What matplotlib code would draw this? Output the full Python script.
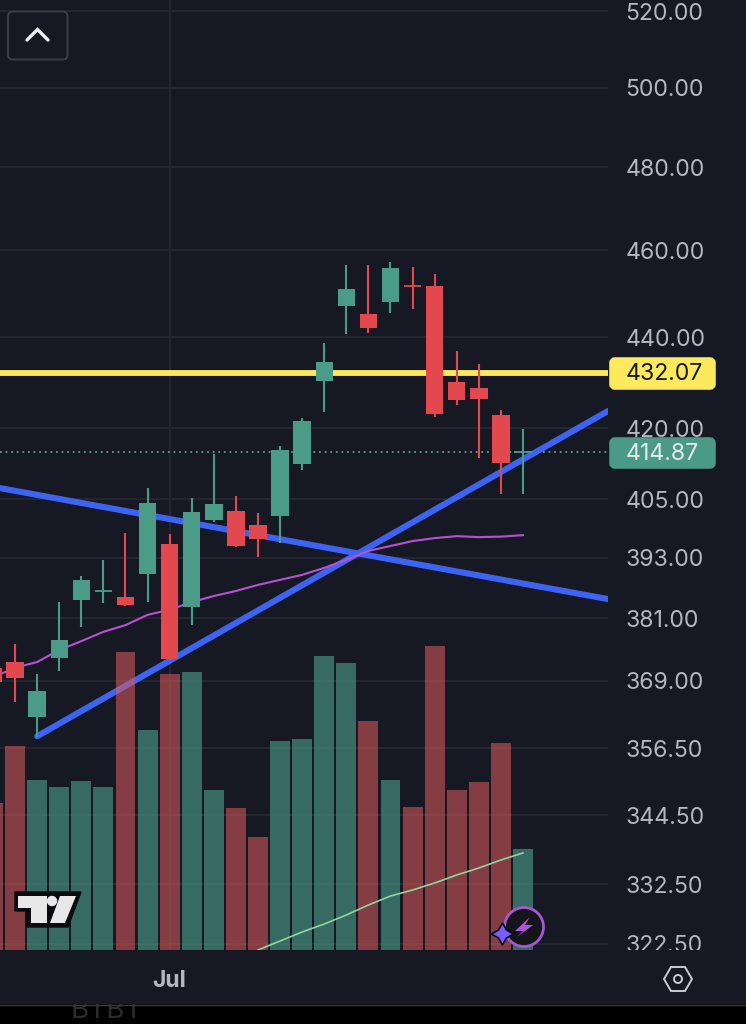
import numpy as np
import matplotlib
matplotlib.use("Agg")
import matplotlib.pyplot as plt
from matplotlib.patches import FancyBboxPatch, Rectangle, Circle, Polygon
from matplotlib.transforms import Bbox
from matplotlib.ticker import NullLocator

# ---- data ----
IDX = list(range(25))
OPEN = [371.5,372.6,362.2,373.4,384.6,386.4,385.2,389.8,395.8,383.2,400.7,402.5,399.7,401.5,412.4,430.3,447.1,445.3,448.0,451.7,451.7,430.0,428.7,422.8,414.85]
CLOSE = [368.8,369.6,367.1,376.8,388.6,386.45,383.6,404.2,373.2,402.3,404.0,395.4,396.8,415.3,421.5,434.5,451.0,442.1,455.9,451.65,423.0,426.1,426.3,412.6,414.87]
HIGH = [372.0,376.0,370.3,384.2,389.4,392.6,398.0,407.3,397.8,405.2,414.5,405.7,402.1,416.2,422.2,438.7,456.6,456.6,457.3,456.1,454.5,436.9,434.0,423.9,419.8]
LOW = [365.4,365.0,358.6,370.9,379.3,384.0,383.4,384.2,373.0,379.7,400.3,395.2,393.2,396.0,411.1,423.5,440.7,441.0,445.5,446.4,422.4,425.0,413.6,406.1,406.1]
PRICE_MA = [369.7,371.5,372.6,374.9,376.6,378.4,379.7,381.7,382.7,384.2,385.4,386.4,387.6,388.6,389.6,391.0,392.6,394.4,395.4,396.4,397.0,397.4,397.2,397.3,397.6]
VOLUME = [147,204,170,163,169,163,298,220,276,278,160,142,113,209,211,294,287,229,170,143,304,160,168,207,101]
VOL_MA_IDX = [12,13,14,15,16,17,18,19,20,21,22,23,24]
VOL_MA = [0,9,18,26,35,45,54,60,67,75,82,90,97]
TREND_UP_X, TREND_UP_Y = [2, 27.85], [358.7, 423.7]
TREND_DOWN_X, TREND_DOWN_Y = [0.317, 27.85], [407.3, 384.8]
LEVEL = 432.07
LAST = 414.87
YTICKS = [520,500,480,460,440,420,405,393,381,369,356.5,344.5,332.5,322.5]
YTICKLABELS = ["520.00","500.00","480.00","460.00","440.00","420.00","405.00","393.00","381.00","369.00","356.50","344.50","332.50","322.50"]
XTICKS, XTICKLABELS = [8], ["Jul"]

BG = "#161923"; GRID = "#262932"; UP = "#4a9c88"; DOWN = "#e2484d"; TXT = "#b4b6c0"
FONT = ["Inter", "DejaVu Sans"]
plt.rcParams["font.family"] = FONT

W, H = 746, 1024
fig = plt.figure(figsize=(W/100, H/100), dpi=100, facecolor="black")

# overlay in pixel coordinates, used for UI chrome
bgax = fig.add_axes([0, 0, 1, 1], zorder=0); bgax.set_xlim(0, W); bgax.set_ylim(H, 0); bgax.axis("off")
bgax.add_patch(Rectangle((0, 0), W, 1004, fc=BG, ec="none", zorder=2))
bgax.plot([0, W], [1004.5, 1004.5], color="#3c3d42", lw=1, zorder=3)
bgax.text(107, 1011.5, "BTBT", color="#2b2b2b", fontsize=20, ha="center", va="center", zorder=1)

pos = [0, 74/H, 608/W, 950/H]
XLIM, YLIM = (0.317, 27.85), (321.51, 522.94)

ax = fig.add_axes(pos, zorder=1, sharex=None)
ax.patch.set_visible(False)
ax.set_yscale("log"); ax.set_xlim(*XLIM); ax.set_ylim(*YLIM)
for s in ax.spines.values(): s.set_visible(False)
ax.yaxis.tick_right()
ax.yaxis.set_minor_locator(NullLocator())
ax.set_yticks(YTICKS); ax.set_yticklabels(YTICKLABELS)
ax.set_xticks(XTICKS); ax.set_xticklabels(XTICKLABELS, fontweight="bold", fontsize=16.5, color=TXT)
ax.tick_params(axis="y", length=0, pad=12.7, labelsize=16.6, labelcolor=TXT)
ax.tick_params(axis="x", length=0, pad=14.5)
ax.grid(True, color=GRID, lw=1.2); ax.set_axisbelow(True)
clip = Bbox([[0, 74], [W, H]])
for lab in ax.get_yticklabels():
    lab.set_clip_box(clip); lab.set_clip_on(True)

ax.axhline(LEVEL, color="#fdea5c", lw=4.2, zorder=3)
ax.axhline(LAST, color="#5f9f90", lw=1.3, ls=(0, (1, 2.1)), zorder=3)
ax.plot(TREND_UP_X, TREND_UP_Y, color="#3c63f2", lw=4.4, solid_capstyle="round", zorder=4)
ax.plot(TREND_DOWN_X, TREND_DOWN_Y, color="#3c63f2", lw=4.4, solid_capstyle="round", zorder=4)

# volume
axv = fig.add_axes(pos, zorder=2); axv.patch.set_visible(False); axv.axis("off")
axv.set_xlim(*XLIM); axv.set_ylim(0, 950)
vcol = ["#53ad97" if c >= o else "#e05c5c" for o, c in zip(OPEN, CLOSE)]
axv.bar(IDX, VOLUME, width=0.9, color=vcol, alpha=0.55, linewidth=0)
axv.plot(VOL_MA_IDX, VOL_MA, color="#8fd6a0", lw=1.2)

# candles
axc = fig.add_axes(pos, zorder=5); axc.patch.set_visible(False); axc.axis("off")
axc.set_yscale("log"); axc.set_xlim(*XLIM); axc.set_ylim(*YLIM)
axc.plot(IDX, PRICE_MA, color="#b652d2", lw=1.5, zorder=1)
ccol = [UP if c >= o else DOWN for o, c in zip(OPEN, CLOSE)]
axc.vlines(IDX, LOW, HIGH, colors=ccol, lw=1.5, zorder=2)
bottoms = [min(o, c) for o, c in zip(OPEN, CLOSE)]
heights = [abs(o - c) for o, c in zip(OPEN, CLOSE)]
axc.bar(IDX, heights, bottom=bottoms, width=0.79, color=ccol, linewidth=0, zorder=3)
for i, (o, c, col) in enumerate(zip(OPEN, CLOSE, ccol)):
    if abs(o - c) < 0.2:
        axc.hlines((o + c) / 2, i - 0.395, i + 0.395, colors=col, lw=1.3, zorder=3)

# top UI layer
ui = fig.add_axes([0, 0, 1, 1], zorder=4); ui.patch.set_visible(False); ui.axis("off")
ui.set_xlim(0, W); ui.set_ylim(H, 0)
def tag(y0, y1, fc):
    ui.add_patch(FancyBboxPatch((612, y0 + 3), 101, y1 - y0 - 6, boxstyle="round,pad=0,rounding_size=3",
                                mutation_aspect=1, fc=fc, ec=fc, lw=4))
tag(357, 390, "#fdea5c"); tag(437, 469, "#4a9a87")
axc.annotate(f"{LEVEL:.2f}", xy=(1, LEVEL), xycoords=("axes fraction", "data"), xytext=(12.7, -1.2),
             textcoords="offset points", va="center", fontsize=16.6, color="#16181f", annotation_clip=False, zorder=10)
axc.annotate(f"{LAST:.2f}", xy=(1, LAST), xycoords=("axes fraction", "data"), xytext=(12.7, -1.5),
             textcoords="offset points", va="center", fontsize=16.6, color="#e6ebe9", annotation_clip=False, zorder=10)

# button
ui.add_patch(FancyBboxPatch((8, 11.5), 59.5, 48, boxstyle="round,pad=0,rounding_size=5", fc="none", ec="#3a3d46", lw=1.4))
ui.plot([27, 37.5, 48], [40, 29.5, 40], color="#eceef2", lw=2.4, solid_capstyle="round", solid_joinstyle="miter")

# tradingview logo
ui.add_patch(Polygon([[15,892],[81,892],[68,927],[26,927],[26,911],[15,911]], fc="#0b0b10", ec="#0b0b10", lw=1, zorder=1))
ui.add_patch(Polygon([[18,896],[47,896],[47,923],[31,923],[31,908],[18,908]], fc="#e8e8e8", ec="none", zorder=2))
ui.add_patch(Circle((52, 901), 5.2, fc="#e8e8e8", ec="none", zorder=3))
ui.add_patch(Polygon([[60,896],[76,896],[65,923],[50,923]], fc="#e8e8e8", ec="none", zorder=2))

# badge
ui.add_patch(Circle((524, 927), 19.5, fc="#14141b", ec="#a25bcc", lw=2))
ui.add_patch(Polygon([[530,917],[515,931],[523,931],[517,937],[533,925],[525,925]], fc="#b052d8", ec="none"))
s = 11; c = 4; cx, cy = 502.5, 934
ui.add_patch(Polygon([[cx,cy-s],[cx+c,cy-c],[cx+s,cy],[cx+c,cy+c],[cx,cy+s],[cx-c,cy+c],[cx-s,cy],[cx-c,cy-c]],
                     fc="#7a5cff", ec="#0b0b10", lw=1.2))

# gear hexagon
r = 14
ui.add_patch(Polygon([[678-r,979],[678-r/2,979-12],[678+r/2,979-12],[678+r,979],[678+r/2,979+12],[678-r/2,979+12]],
                     fc="none", ec="#c9cbd1", lw=1.4))
ui.add_patch(Circle((678, 979), 4, fc="none", ec="#c9cbd1", lw=1.4))

fig.savefig("out.png", dpi=100, facecolor="black")
